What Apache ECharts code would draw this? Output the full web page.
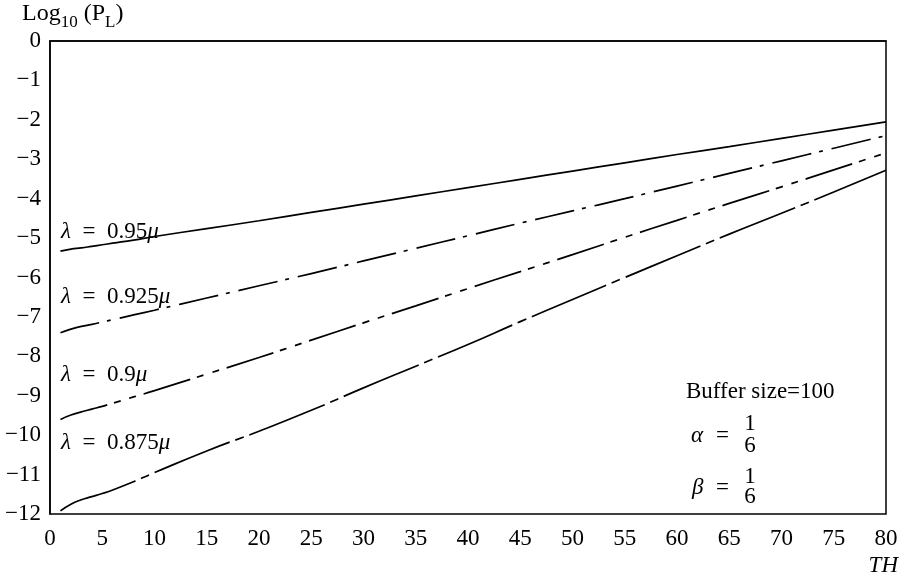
<!DOCTYPE html>
<html>
<head>
<meta charset="utf-8">
<script src="https://cdn.jsdelivr.net/npm/echarts@6/dist/echarts.min.js"></script>
<style>
html,body{margin:0;padding:0;background:#fff;}
#chart{width:912px;height:581px;}
</style>
</head>
<body>
<div id="chart"></div>
<script>
// ---- data ----
const thValues = [1, 2, 3, 4, 5, 6, 8, 10, 15, 20, 25, 30, 35, 40, 45, 50, 55, 60, 65, 70, 75, 80];
const seriesNames = ['λ = 0.95μ', 'λ = 0.925μ', 'λ = 0.9μ', 'λ = 0.875μ'];
const lam095 = [-5.33, -5.28, -5.25, -5.21, -5.17, -5.13, -5.05, -4.96, -4.76, -4.56, -4.35, -4.14, -3.93, -3.72, -3.51, -3.30, -3.09, -2.88, -2.68, -2.47, -2.26, -2.05];
const lam0925 = [-7.40, -7.31, -7.24, -7.19, -7.13, -7.07, -6.95, -6.83, -6.52, -6.21, -5.90, -5.58, -5.26, -4.94, -4.62, -4.31, -4.00, -3.68, -3.36, -3.04, -2.72, -2.40];
const lam09 = [-9.60, -9.49, -9.41, -9.34, -9.27, -9.19, -9.03, -8.87, -8.45, -8.03, -7.59, -7.15, -6.72, -6.28, -5.85, -5.42, -4.98, -4.55, -4.12, -3.70, -3.27, -2.84];
const lam0875 = [-11.92, -11.75, -11.64, -11.56, -11.48, -11.39, -11.18, -10.95, -10.40, -9.90, -9.37, -8.80, -8.25, -7.70, -7.12, -6.56, -6.00, -5.45, -4.90, -4.37, -3.83, -3.28];
const xTickLabels = ['0','5','10','15','20','25','30','35','40','45','50','55','60','65','70','75','80'];
const yTickLabels = ['−12','−11','−10','−9','−8','−7','−6','−5','−4','−3','−2','−1','0'];

const FONT = '"Liberation Serif", "DejaVu Serif", serif';
const FS = 23;
const allSeries = [lam095, lam0925, lam09, lam0875];
const dashes = ['solid', [40, 8, 4, 9], [49, 7, 7, 9, 7, 8], [81, 6, 9, 6]];

const chart = echarts.init(document.getElementById('chart'), null, {renderer: 'canvas'});

function pairs(vals) { return thValues.map((x, i) => [x, vals[i]]); }

const lamRich = {
  i: {fontFamily: FONT, fontStyle: 'italic', fontSize: FS, fill: '#000'},
  t: {fontFamily: FONT, fontSize: FS, fill: '#000'}
};
function lamText(name) {
  const v = name.replace('λ = ', '').replace('μ', '');
  return '{i|λ}{t|  =  ' + v + '}{i|μ}';
}
const labelPos = [[61, 232], [61, 297], [61, 375], [61, 443]];

function txt(x, y, s, extra) {
  return {type: 'text', x: x, y: y, style: Object.assign({text: s, fontFamily: FONT, fontSize: FS, fill: '#000', verticalAlign: 'middle'}, extra || {})};
}

const option = {
  backgroundColor: '#fff',
  animation: false,
  grid: {left: 50, top: 41, right: 26, bottom: 67, show: true, borderColor: '#000', borderWidth: 1.5, containLabel: false},
  xAxis: {
    type: 'value', min: 0, max: 80, interval: 5,
    axisLine: {show: true, lineStyle: {color: '#000', width: 1.5}},
    axisTick: {show: false},
    splitLine: {show: false},
    axisLabel: {fontFamily: FONT, fontSize: FS, color: '#000', margin: 13,
      formatter: v => xTickLabels[Math.round(v / 5)]}
  },
  yAxis: {
    type: 'value', min: -12, max: 0, interval: 1,
    axisLine: {show: true, lineStyle: {color: '#000', width: 1.5}},
    axisTick: {show: false},
    splitLine: {show: false},
    axisLabel: {fontFamily: FONT, fontSize: FS, color: '#000', margin: 9,
      formatter: v => yTickLabels[Math.round(v + 12)]}
  },
  series: allSeries.map((vals, k) => ({
    name: seriesNames[k],
    type: 'line',
    data: pairs(vals),
    smooth: 0.5,
    showSymbol: false,
    lineStyle: {color: '#000', width: 1.7, type: dashes[k]}
  })),
  graphic: [
    {type: 'text', left: 22, top: 2,
      style: {text: '{n|Log}{s|10}{n| (P}{s|L}{n|)}', rich: {
        n: {fontFamily: FONT, fontSize: 24, fill: '#000', verticalAlign: 'bottom', padding: [0, 0, 5, 0]},
        s: {fontFamily: FONT, fontSize: 17, fill: '#000', verticalAlign: 'bottom'}
      }}},
    ...seriesNames.map((n, k) => ({type: 'text', x: labelPos[k][0], y: labelPos[k][1],
      style: {text: lamText(n), rich: lamRich, verticalAlign: 'middle', align: 'left'}})),
    txt(898, 566, 'TH', {fontStyle: 'italic', align: 'right'}),
    txt(686, 392, 'Buffer size=100'),
    txt(691, 436, 'α', {fontStyle: 'italic'}),
    txt(716, 436, '='),
    txt(750, 424, '1', {align: 'center'}),
    txt(750, 446, '6', {align: 'center'}),
    txt(692, 488, 'β', {fontStyle: 'italic'}),
    txt(716, 488, '='),
    txt(750, 477, '1', {align: 'center'}),
    txt(750, 497, '6', {align: 'center'})
  ]
};
chart.setOption(option);
</script>
</body>
</html>
